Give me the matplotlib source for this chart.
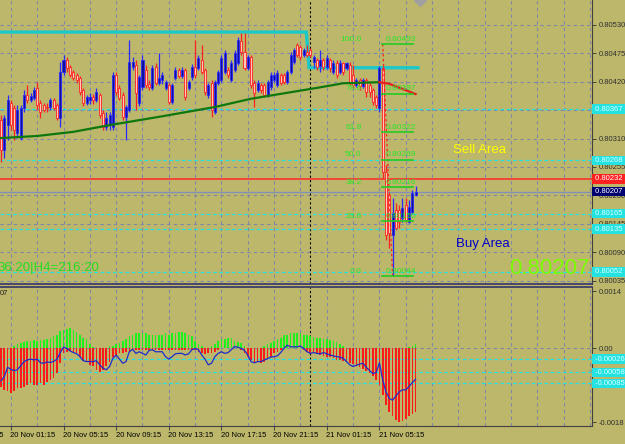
import numpy as np
import matplotlib.pyplot as plt
from matplotlib.transforms import blended_transform_factory

plt.rcParams['font.family'] = ['Liberation Sans', 'DejaVu Sans']

# 15 min candles from 20 Nov 00:30, prices in points (1e-5)
opens = [80346, 80288, 80336, 80379, 80369, 80321, 80311, 80369, 80394, 80385,
         80388, 80408, 80379, 80375, 80371, 80371, 80385, 80375, 80350, 80439,
         80462, 80448, 80439, 80433, 80427, 80404, 80379, 80385, 80390, 80385,
         80394, 80359, 80332, 80336, 80332, 80433, 80408, 80394, 80352, 80365,
         80448, 80452, 80379, 80410, 80443, 80416, 80408, 80448, 80417, 80423,
         80408, 80414, 80381, 80427, 80443, 80431, 80443, 80408, 80429, 80448,
         80446, 80462, 80443, 80394, 80417, 80361, 80417, 80423, 80439, 80443,
         80423, 80443, 80456, 80499, 80477, 80446, 80468, 80417, 80404, 80414,
         80414, 80394, 80410, 80423, 80414, 80433, 80433, 80419, 80439, 80458,
         80491, 80487, 80472, 80477, 80481, 80458, 80462, 80450, 80462, 80448,
         80462, 80439, 80456, 80439, 80456, 80446, 80452, 80433, 80414, 80423,
         80412, 80423, 80414, 80404, 80390, 80369, 80446, 80245, 80201, 80124,
         80172, 80172, 80156, 80182, 80149, 80168, 80201]
closes = [80288, 80350, 80385, 80336, 80327, 80365, 80369, 80394, 80385, 80392,
          80404, 80375, 80361, 80365, 80369, 80385, 80369, 80350, 80439, 80462,
          80446, 80433, 80427, 80423, 80400, 80379, 80390, 80390, 80385, 80400,
          80356, 80332, 80350, 80356, 80433, 80400, 80388, 80352, 80371, 80458,
          80458, 80398, 80429, 80462, 80414, 80410, 80446, 80417, 80427, 80433,
          80419, 80381, 80414, 80443, 80431, 80443, 80390, 80419, 80448, 80433,
          80466, 80439, 80400, 80414, 80365, 80419, 80439, 80466, 80475, 80433,
          80456, 80475, 80501, 80477, 80446, 80468, 80414, 80398, 80417, 80404,
          80394, 80419, 80433, 80433, 80437, 80417, 80419, 80439, 80472, 80481,
          80472, 80468, 80481, 80472, 80472, 80468, 80448, 80462, 80448, 80466,
          80446, 80456, 80433, 80456, 80439, 80456, 80419, 80414, 80423, 80412,
          80423, 80400, 80400, 80381, 80375, 80446, 80245, 80124, 80127, 80166,
          80137, 80149, 80176, 80153, 80178, 80205, 80207]
highs = [80356, 80356, 80394, 80385, 80375, 80375, 80375, 80404, 80414, 80398,
         80410, 80419, 80385, 80379, 80379, 80388, 80388, 80379, 80458, 80472,
         80468, 80452, 80443, 80437, 80431, 80408, 80394, 80398, 80396, 80408,
         80398, 80365, 80361, 80361, 80439, 80439, 80414, 80400, 80375, 80501,
         80468, 80462, 80433, 80472, 80452, 80423, 80452, 80456, 80475, 80439,
         80423, 80417, 80417, 80448, 80446, 80448, 80446, 80423, 80454, 80501,
         80472, 80491, 80446, 80417, 80423, 80423, 80443, 80472, 80481, 80448,
         80462, 80481, 80506, 80514, 80514, 80472, 80472, 80423, 80423, 80417,
         80417, 80423, 80439, 80439, 80443, 80437, 80437, 80443, 80477, 80485,
         80495, 80491, 80485, 80491, 80485, 80472, 80466, 80481, 80466, 80472,
         80466, 80462, 80462, 80462, 80458, 80458, 80458, 80452, 80427, 80427,
         80427, 80427, 80419, 80408, 80394, 80450, 80450, 80259, 80207, 80195,
         80185, 80182, 80195, 80195, 80191, 80211, 80218]
lows = [80265, 80272, 80307, 80327, 80307, 80311, 80307, 80361, 80379, 80381,
        80385, 80365, 80350, 80361, 80361, 80365, 80365, 80346, 80332, 80433,
        80439, 80429, 80423, 80417, 80394, 80373, 80375, 80377, 80377, 80381,
        80350, 80327, 80327, 80327, 80327, 80394, 80385, 80346, 80307, 80361,
        80443, 80365, 80373, 80404, 80408, 80404, 80404, 80414, 80414, 80416,
        80404, 80377, 80377, 80423, 80427, 80427, 80385, 80404, 80423, 80427,
        80443, 80435, 80394, 80388, 80352, 80357, 80414, 80419, 80435, 80427,
        80419, 80439, 80452, 80472, 80443, 80443, 80408, 80371, 80400, 80398,
        80390, 80390, 80404, 80419, 80410, 80414, 80416, 80416, 80435, 80454,
        80468, 80462, 80468, 80468, 80468, 80446, 80443, 80439, 80443, 80445,
        80439, 80435, 80427, 80435, 80433, 80443, 80414, 80408, 80410, 80404,
        80408, 80390, 80390, 80375, 80369, 80361, 80234, 80114, 80098, 80044,
        80133, 80137, 80149, 80149, 80147, 80164, 80199]

# moving average read at some bars
ma_bars = [0, 11, 22, 33, 48, 65, 76, 96, 104, 115, 118, 122, 126]
ma_vals = [80311, 80315, 80323, 80336, 80352, 80371, 80387, 80408, 80417, 80419, 80416, 80406, 80396]

day_high = [80516, 80447]          # 20 Nov, 21 Nov
day_start_bar = 94                 # first bar of 21 Nov
cyan_levels = [80367, 80268, 80165, 80135, 80052]
red_level = 80232
bid = 80207

fib_ratios = ['0.0', '23.6', '38.2', '50.0', '61.8', '78.6', '100.0']
fib_values = [80044, 80150, 80216, 80269, 80322, 80397, 80493]

price_ticks = [80035, 80090, 80145, 80200, 80255, 80310, 80365, 80420, 80475, 80530]

# indicator, units 1e-5
hist_up = [0, 0, 0, 0, 6, 10, 14, 15, 18, 18,
           20, 18, 20, 20, 24, 26, 30, 34, 42, 46,
           48, 50, 46, 40, 34, 26, 22, 10, 4, 2,
           0, 0, 0, 6, 7, 10, 14, 18, 22, 30,
           34, 37, 38, 38, 37, 34, 34, 34, 32, 34,
           37, 34, 37, 38, 40, 40, 38, 34, 30, 18,
           10, 6, 2, 0, 6, 10, 18, 22, 24, 26,
           26, 18, 15, 14, 6, 0, 0, 0, 0, 2,
           6, 10, 14, 18, 22, 26, 32, 34, 37, 38,
           38, 37, 34, 32, 30, 28, 26, 26, 24, 22,
           20, 18, 15, 12, 7, 2, 0, 0, 0, 0,
           0, 0, 0, 0, 0, 0, 0, 0, 0, 0,
           0, 0, 0, 1, 4, 7, 12]
hist_dn = [-93, -101, -105, -109, -105, -97, -97, -93, -89, -85,
           -89, -89, -85, -89, -81, -77, -73, -61, -36, -12,
           -8, -5, -8, -12, -20, -28, -32, -40, -44, -52,
           -57, -52, -44, -32, -20, -16, -12, -12, -8, -5,
           -3, -3, -3, -3, -3, -3, -3, -3, -3, -3,
           -3, -3, -3, -3, -3, -3, -3, -3, -3, -4,
           -8, -10, -13, -12, -12, -8, -3, 0, 0, 0,
           0, 0, 0, -4, -12, -20, -28, -32, -34, -36,
           -32, -24, -20, -12, -8, -4, 0, 0, 0, 0,
           0, 0, -4, -8, -10, -12, -14, -16, -18, -20,
           -22, -24, -27, -28, -30, -32, -36, -38, -42, -46,
           -51, -55, -61, -68, -76, -89, -114, -138, -154, -166,
           -174, -179, -176, -172, -166, -160, -154]
signal = [-79, -69, -46, -51, -54, -52, -42, -32, -28, -26,
          -28, -26, -35, -36, -33, -34, -32, -26, -10, 3,
          0, -6, -10, -13, -20, -30, -32, -32, -32, -30,
          -40, -48, -52, -44, -24, -16, -26, -36, -32, -8,
          -2, -12, -8, -12, -16, -5, -3, -8, -8, -8,
          -20, -26, -20, -13, -12, -12, -16, -13, -3, 0,
          -3, -16, -26, -40, -36, -20, -12, -8, -12, -10,
          -3, 5, 3, 0, -5, -16, -32, -35, -32, -32,
          -28, -25, -21, -20, -18, -10, 0, 8, 4, 4,
          4, 6, 0, -8, -12, -10, -12, -13, -10, -13,
          -16, -18, -20, -21, -24, -32, -40, -44, -41, -38,
          -36, -46, -54, -61, -59, -35, -77, -106, -122, -126,
          -116, -106, -101, -101, -93, -83, -75]
ind_levels = [-26, -58, -85]
ind_ticks = [0.0014, 0.0, -0.0018]
ind_tick_labels = ['0.0014', '0.00', '-0.0018']

label_bars = [-13, 3, 19, 35, 51, 67, 83, 99, 115]
time_labels = ['19 Nov 21:15', '20 Nov 01:15', '20 Nov 05:15', '20 Nov 09:15', '20 Nov 13:15',
               '20 Nov 17:15', '20 Nov 21:15', '21 Nov 01:15', '21 Nov 05:15']

BG = '#bdb76b'
GRID = '#7f86a6'
CYAN = '#25e2e2'
FIBC = '#28e628'
FS = 5.5

o = np.array(opens) / 1e5
c = np.array(closes) / 1e5
h = np.array(highs) / 1e5
l = np.array(lows) / 1e5
x = np.arange(len(o))

fig = plt.figure(figsize=(6.25, 4.44), dpi=100, facecolor=BG)
ax1 = fig.add_axes([0, 1 - 284 / 444, 592 / 625, 284 / 444], facecolor=BG)
ax2 = fig.add_axes([0, 1 - 425.5 / 444, 592 / 625, 138.5 / 444], facecolor=BG)

xlim = (-0.3, 179.6)
for ax in (ax1, ax2):
    ax.set_xlim(*xlim)
    for g in range(3, 180, 8):
        ax.axvline(g, color=GRID, lw=0.8, ls=(0, (3, 3)), zorder=0)
    ax.axvline(day_start_bar, color='black', lw=0.8, ls=(0, (2, 2)), zorder=1)
    ax.spines['left'].set_visible(False)
    ax.spines['right'].set_color('#404040')
    ax.yaxis.tick_right()
    ax.tick_params(axis='y', labelsize=FS, length=3, width=0.6, pad=2, colors='#303030')

# ---- price panel
ax1.set_ylim(0.800287, 0.80578)
ax1.spines['top'].set_visible(False)
ax1.spines['bottom'].set_color('#34346a')
ax1.spines['bottom'].set_linewidth(1.2)
ax1.set_xticks([])
ax1.set_yticks(np.array(price_ticks) / 1e5)
ax1.set_yticklabels(['%.5f' % (p / 1e5) for p in price_ticks])
for p in price_ticks:
    ax1.axhline(p / 1e5, color=GRID, lw=0.8, ls=(0, (3, 3)), zorder=0)

ytr = blended_transform_factory(ax1.transAxes, ax1.transData)
for v in cyan_levels:
    ax1.axhline(v / 1e5, color=CYAN, lw=0.9, ls=(0, (3, 2)), zorder=1)
    ax1.text(1.002, v / 1e5, ' %.5f  ' % (v / 1e5), transform=ytr, fontsize=FS, color='#d8ffff',
             va='center', ha='left', clip_on=False, zorder=6,
             bbox=dict(boxstyle='square,pad=0.15', fc=CYAN, ec='none'))
ax1.axhline(red_level / 1e5, color='#ff2a2a', lw=1.1, zorder=1)
ax1.text(1.002, red_level / 1e5, ' %.5f  ' % (red_level / 1e5), transform=ytr, fontsize=FS,
         color='white', va='center', ha='left', clip_on=False, zorder=6,
         bbox=dict(boxstyle='square,pad=0.15', fc='#ff2020', ec='none'))
ax1.axhline(bid / 1e5, color='#8090b8', lw=1.0, zorder=1)
ax1.text(1.002, bid / 1e5, ' %.5f  ' % (bid / 1e5), transform=ytr, fontsize=FS,
         color='white', va='center', ha='left', clip_on=False, zorder=6,
         bbox=dict(boxstyle='square,pad=0.15', fc='#000070', ec='none'))

# previous day high line
ax1.plot([-1, day_start_bar - 1.2, day_start_bar - 0.4, len(o) - 0.3],
         np.array([day_high[0], day_high[0], day_high[1], day_high[1]]) / 1e5,
         color='#1cc8c8', lw=2.4, zorder=2, solid_joinstyle='miter')

# candles
up = c >= o
wick_col = np.where(up, '#2a2aff', '#ff2020')
ax1.vlines(x, l, h, colors=wick_col, lw=0.9, zorder=4)
body = np.maximum(np.abs(c - o), 0.000012)
ax1.bar(x[up], body[up], bottom=np.minimum(o, c)[up], width=0.62,
        color='#10109a', edgecolor='#2a2aff', lw=0.6, zorder=5)
ax1.bar(x[~up], body[~up], bottom=np.minimum(o, c)[~up], width=0.62,
        color='#ffc8b8', edgecolor='#ff2020', lw=0.6, zorder=5)

# moving average, green rising / red falling
ma = np.array(ma_vals) / 1e5
split = ma_bars.index(115)
ax1.plot(ma_bars[:split + 1], ma[:split + 1], color='#0e780e', lw=1.6, zorder=6)
ax1.plot(ma_bars[split:], ma[split:], color='#e02020', lw=1.6, zorder=6)

# fibonacci
fib_start, fib_end = 115.8, 125.3
ax1.plot([116, 119], [fib_values[-1] / 1e5, fib_values[0] / 1e5], color='#ff2020',
         lw=0.9, ls=(0, (2, 2)), zorder=7)
for r, v in zip(fib_ratios, fib_values):
    ax1.plot([fib_start, fib_end], [v / 1e5, v / 1e5], color='#22cc22', lw=1.2, zorder=7)
    ax1.annotate(r, (109.6, v / 1e5), xytext=(0, 1.0), textcoords='offset points',
                 ha='right', va='bottom', fontsize=6, color=FIBC, zorder=8)
    ax1.annotate('%.5f' % (v / 1e5), (117.0, v / 1e5), xytext=(0, 1.0), textcoords='offset points',
                 ha='left', va='bottom', fontsize=6, color=FIBC, zorder=8)

ax1.text(137.4, 0.80288, 'Sell Area', fontsize=9.5, color='#ffff00', va='center', ha='left', zorder=8)
ax1.text(138.3, 0.80106, 'Buy Area', fontsize=9.5, color='#0000c8', va='center', ha='left', zorder=8)
ax1.text(0.995, 0.055, '%.5f' % (bid / 1e5), transform=ax1.transAxes, fontsize=16,
         color='#7cfc00', va='center', ha='right', zorder=8)
ax1.text(0.168, 0.056, '36:20|H4=216:20', transform=ax1.transAxes, fontsize=9.5,
         color='#22dd22', va='center', ha='right', zorder=8)
ax1.plot(0.7095, 1.0, marker='D', ms=6, color='#a0a0a0', transform=ax1.transAxes,
         clip_on=True, zorder=9)

# ---- indicator panel
ax2.set_ylim(-0.00188, 0.0015)
ax2.spines['top'].set_color('#34346a')
ax2.spines['top'].set_linewidth(1.2)
ax2.spines['bottom'].set_color('#404040')
ax2.set_yticks(ind_ticks)
ax2.set_yticklabels(ind_tick_labels)
ax2.axhline(0, color=GRID, lw=0.8, ls=(0, (3, 3)), zorder=0)
ax2.set_xticks(label_bars[1:])
ax2.set_xticklabels([])
ax2.tick_params(axis='x', length=3, width=0.6, colors='#303030')

ytr2 = blended_transform_factory(ax2.transAxes, ax2.transData)
for v in ind_levels:
    ax2.axhline(v / 1e5, color=CYAN, lw=0.9, ls=(0, (3, 2)), zorder=1)
    ax2.text(1.002, v / 1e5, ' %.5f  ' % (v / 1e5), transform=ytr2, fontsize=FS, color='#d8ffff',
             va='center', ha='left', clip_on=False, zorder=6,
             bbox=dict(boxstyle='square,pad=0.15', fc=CYAN, ec='none'))

ax2.bar(x, np.array(hist_up) / 1e5, width=0.5, color='#1ef01e', zorder=3)
ax2.bar(x, np.array(hist_dn) / 1e5, width=0.5, color='#ff1a1a', zorder=3)
ax2.plot(x, np.array(signal) / 1e5, color='#1c2ccc', lw=0.9, zorder=4)
ax2.text(0.0, 0.955, '07', transform=ax2.transAxes, fontsize=FS, color='#202020',
         va='center', ha='left')

xtr = blended_transform_factory(ax2.transData, ax2.transAxes)
for b, t in zip(label_bars, time_labels):
    ax2.text(b - 0.2, -0.07, t, transform=xtr, fontsize=FS, color='black',
             va='center', ha='left', clip_on=False)

fig.savefig('out.png', dpi=100, facecolor=BG)
